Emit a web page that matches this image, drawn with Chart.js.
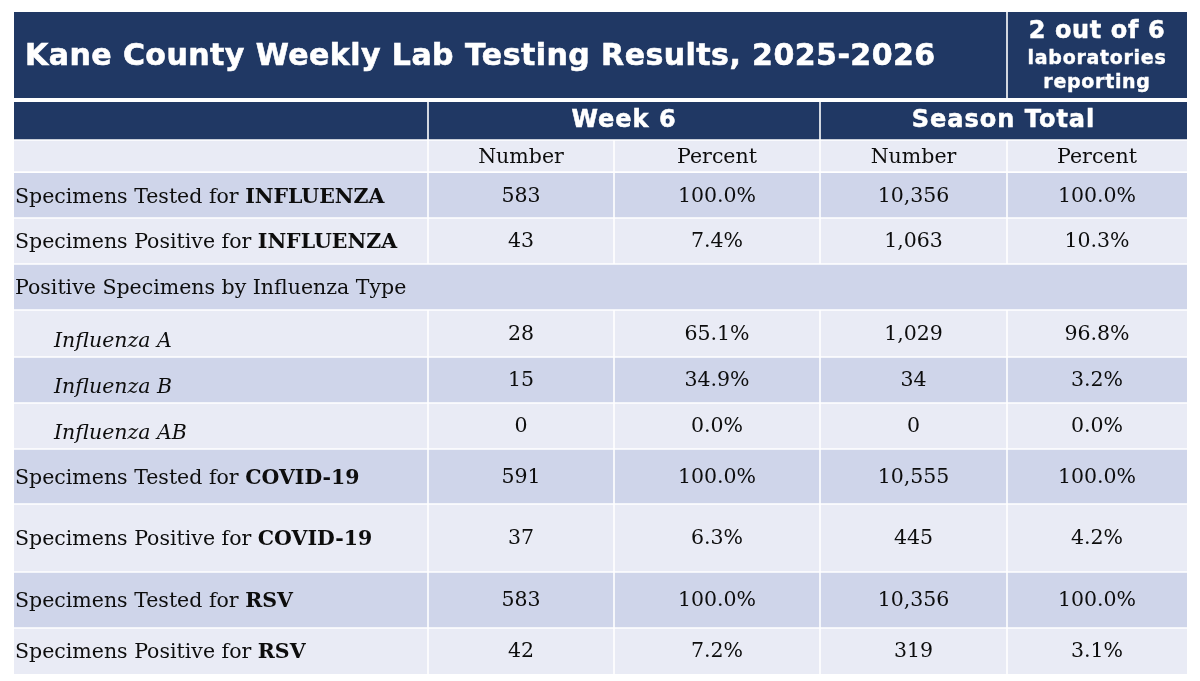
<!DOCTYPE html>
<html>
<head>
<meta charset="utf-8">
<script src="https://cdn.jsdelivr.net/npm/chart.js@4/dist/chart.umd.min.js"></script>
<style>
  html, body { margin: 0; padding: 0; background: #ffffff; }
  #labTable { display: block; }
</style>
</head>
<body>
<canvas id="labTable" width="1200" height="681"></canvas>
<script>
// table content
const title = 'Kane County Weekly Lab Testing Results, 2025-2026';
const reportingNote = ['2 out of 6', 'laboratories', 'reporting'];
const periods = ['Week 6', 'Season Total'];
const measures = ['Number', 'Percent'];
const rowLead = [
    'Specimens Tested for ', 'Specimens Positive for ', 'Positive Specimens by Influenza Type',
    'Influenza A', 'Influenza B', 'Influenza AB',
    'Specimens Tested for ', 'Specimens Positive for ',
    'Specimens Tested for ', 'Specimens Positive for '
];
const rowPathogen = ['INFLUENZA', 'INFLUENZA', '', '', '', '', 'COVID-19', 'COVID-19', 'RSV', 'RSV'];
const rowIsSubtype = [false, false, false, true, true, true, false, false, false, false];
const week6Number = [583, 43, null, 28, 15, 0, 591, 37, 583, 42];
const week6Percent = [100.0, 7.4, null, 65.1, 34.9, 0.0, 100.0, 6.3, 100.0, 7.2];
const seasonNumber = [10356, 1063, null, 1029, 34, 0, 10555, 445, 10356, 319];
const seasonPercent = [100.0, 10.3, null, 96.8, 3.2, 0.0, 100.0, 4.2, 100.0, 3.1];

// layout, in scale units (same as page pixels)
const colEdges = [14, 428, 614, 820, 1007, 1187];
const rowEdges = [173, 218, 264, 310, 357, 403, 449, 504, 572, 628, 674];
const titleTop = 12, titleBottom = 98, headTop = 102, headBottom = 140, subBottom = 172;

const navy = '#203864';
const lavender = '#CFD5EA';
const pale = '#E9EBF5';
const ink = '#0d0d0d';
const sans = '"DejaVu Sans", Verdana, sans-serif';
const serif = '"DejaVu Serif", Cambria, serif';
const bodySize = '20.5px ';

const fmtNumber = v => v === null ? '' : v.toLocaleString('en-US');
const fmtPercent = v => v === null ? '' : v.toFixed(1) + '%';

const tablePlugin = {
    id: 'labTableDraw',
    beforeDatasetsDraw(chart) {
        const ctx = chart.ctx;
        const x = chart.scales.x, y = chart.scales.y;
        const px = v => x.getPixelForValue(v);
        const py = v => y.getPixelForValue(v);

        const cell = (x0, y0, x1, y1, fill) => {
            ctx.fillStyle = fill;
            ctx.fillRect(px(x0), py(y0), px(x1) - px(x0), py(y1) - py(y0));
        };
        const line = (x0, y0, x1, y1) => {
            ctx.beginPath();
            ctx.moveTo(px(x0), py(y0));
            ctx.lineTo(px(x1), py(y1));
            ctx.stroke();
        };
        // heavy = thin outline to thicken the sans headings a little
        const text = (str, xv, yv, font, color, align, spacing, heavy) => {
            ctx.font = font;
            ctx.fillStyle = color;
            ctx.textAlign = align || 'center';
            ctx.textBaseline = 'middle';
            ctx.letterSpacing = (spacing || 0) + 'px';
            ctx.fillText(str, px(xv), py(yv));
            if (heavy) {
                ctx.strokeStyle = color;
                ctx.lineWidth = heavy;
                ctx.strokeText(str, px(xv), py(yv));
            }
            ctx.letterSpacing = '0px';
        };

        ctx.save();

        // title bar and reporting box
        cell(colEdges[0], titleTop, colEdges[4], titleBottom, navy);
        cell(colEdges[4], titleTop, colEdges[5], titleBottom, navy);
        text(title, 25, 57, 'bold 30px ' + sans, '#ffffff', 'left', 0.45, 0.6);
        const labMid = (colEdges[4] + colEdges[5]) / 2;
        text(reportingNote[0], labMid, 32, 'bold 24px ' + sans, '#ffffff', 'center', 0.6, 0.5);
        text(reportingNote[1], labMid, 59, 'bold 19px ' + sans, '#ffffff', 'center', 0.7, 0.4);
        text(reportingNote[2], labMid, 83, 'bold 19px ' + sans, '#ffffff', 'center', 0.7, 0.4);

        // period header row
        cell(colEdges[0], headTop, colEdges[5], headBottom, navy);
        text(periods[0], (colEdges[1] + colEdges[3]) / 2, 121, 'bold 24px ' + sans, '#ffffff', 'center', 1, 0.5);
        text(periods[1], (colEdges[3] + colEdges[5]) / 2, 121, 'bold 24px ' + sans, '#ffffff', 'center', 1, 0.5);

        // measure sub header
        cell(colEdges[0], headBottom, colEdges[5], subBottom, pale);
        for (let c = 1; c < 5; c++) {
            text(measures[(c - 1) % 2], (colEdges[c] + colEdges[c + 1]) / 2, 158, bodySize + serif, ink);
        }

        // body rows
        const columns = [week6Number.map(fmtNumber), week6Percent.map(fmtPercent),
                         seasonNumber.map(fmtNumber), seasonPercent.map(fmtPercent)];
        for (let r = 0; r < rowLead.length; r++) {
            const top = rowEdges[r], bottom = rowEdges[r + 1];
            const mid = (top + bottom) / 2;
            cell(colEdges[0], top, colEdges[5], bottom, r % 2 === 0 ? lavender : pale);

            if (rowIsSubtype[r]) {
                text(rowLead[r], 54, mid + 8, 'italic ' + bodySize + serif, ink, 'left');
            } else {
                text(rowLead[r], 15, mid + 2, bodySize + serif, ink, 'left');
                if (rowPathogen[r]) {
                    ctx.font = bodySize + serif;
                    const w = ctx.measureText(rowLead[r]).width;
                    text(rowPathogen[r], x.getValueForPixel(px(15) + w), mid + 2, 'bold ' + bodySize + serif, ink, 'left');
                }
            }
            for (let c = 0; c < 4; c++) {
                const v = columns[c][r];
                if (v) text(v, (colEdges[c + 1] + colEdges[c + 2]) / 2, mid + 1, bodySize + serif, ink);
            }
        }

        // white grid
        ctx.strokeStyle = '#ffffff';
        ctx.lineWidth = 1.6;
        line(colEdges[4], titleTop, colEdges[4], titleBottom);
        line(colEdges[1], headTop, colEdges[1], headBottom);
        line(colEdges[3], headTop, colEdges[3], headBottom);
        line(colEdges[0], headBottom, colEdges[5], headBottom);
        for (let c = 1; c < 5; c++) line(colEdges[c], headBottom, colEdges[c], subBottom);
        line(colEdges[0], subBottom, colEdges[5], subBottom);
        for (let r = 0; r < rowLead.length; r++) {
            const top = rowEdges[r], bottom = rowEdges[r + 1];
            if (r > 0) line(colEdges[0], top, colEdges[5], top);
            if (!rowPathogen[r] && !rowIsSubtype[r]) continue; // merged row
            for (let c = 1; c < 5; c++) line(colEdges[c], top, colEdges[c], bottom);
        }

        ctx.restore();
    }
};

new Chart(document.getElementById('labTable'), {
    type: 'scatter',
    data: { datasets: [{ data: [] }] },
    options: {
        responsive: false,
        animation: false,
        devicePixelRatio: 1,
        layout: { padding: 0 },
        plugins: { legend: { display: false }, tooltip: { enabled: false } },
        scales: {
            x: { type: 'linear', min: 0, max: 1200, display: false },
            y: { type: 'linear', min: 0, max: 681, reverse: true, display: false }
        }
    },
    plugins: [tablePlugin]
});
</script>
</body>
</html>
